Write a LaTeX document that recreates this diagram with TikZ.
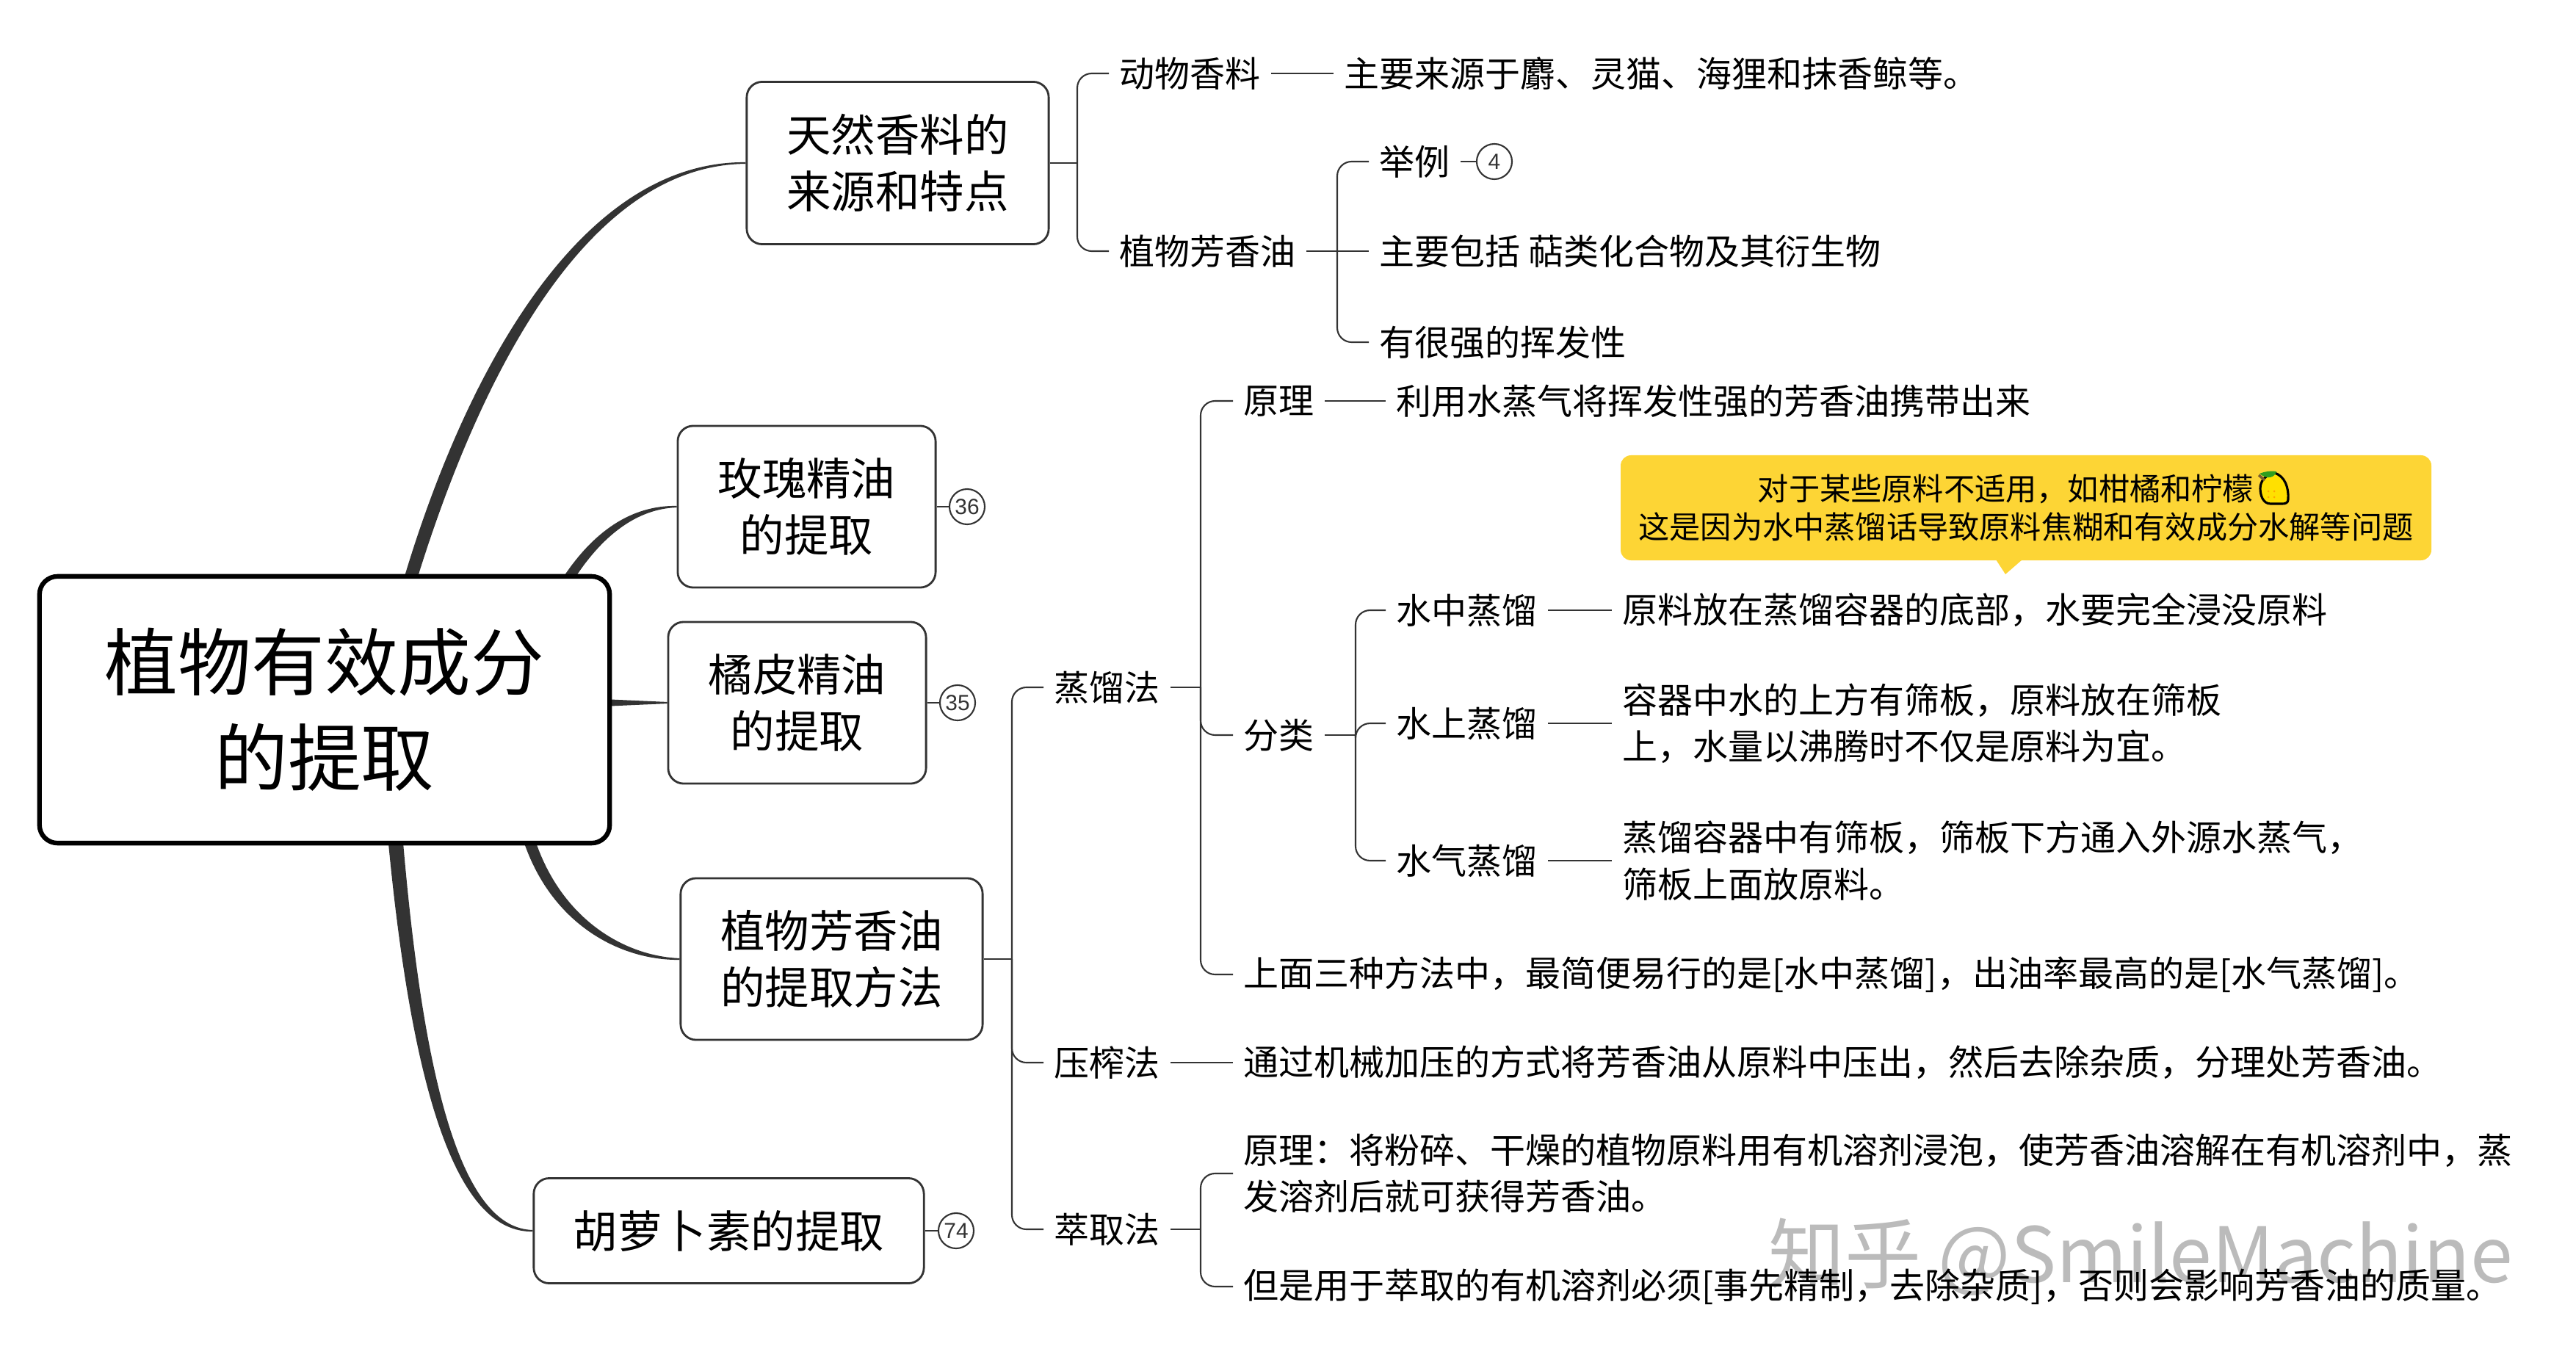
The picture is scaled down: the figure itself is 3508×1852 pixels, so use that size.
\documentclass[tikz,border=0pt]{standalone}
\usepackage{fontspec}
\setmainfont{Noto Sans CJK SC}
\newfontfamily\numfont{Liberation Sans}
\usetikzlibrary{calc}
\definecolor{linecol}{HTML}{333333}
\definecolor{notecol}{HTML}{FDD535}
\definecolor{lemoncol}{HTML}{FFE000}
\definecolor{leafcol}{HTML}{2E9E1F}
\definecolor{stemcol}{HTML}{7A5C2E}
\definecolor{markcol}{HTML}{BBBBBB}
\tikzset{
  rootbox/.style={draw=black,line width=1.8pt,rounded corners=7pt,fill=white,align=center,inner sep=0pt,font=\fontsize{28.4}{37}\selectfont},
  topicbox/.style={draw=linecol,line width=0.8pt,rounded corners=6pt,fill=white,align=center,inner sep=0pt,font=\fontsize{17.2}{22}\selectfont},
  lab/.style={anchor=west,align=left,inner xsep=0.14cm,inner ysep=0.03cm,font=\fontsize{13.65}{18}\selectfont},
  badge/.style={draw=linecol,line width=0.6pt,circle,inner sep=0pt,minimum size=0.48cm,text=linecol,font=\numfont\fontsize{8.5}{10}\selectfont},
  trunk/.style={draw=linecol,fill=linecol,line width=0.6pt},
  link/.style={draw=linecol,line width=0.8pt},
  thin link/.style={draw=linecol,line width=0.6pt},
  elbow/.style={draw=linecol,line width=0.6pt,rounded corners=5.6pt},
}

\begin{document}
\begin{tikzpicture}[x=0.01cm,y=-0.01cm]
\useasboundingbox (0,0) rectangle (3508,1852);

\node[text=markcol,font=\fontsize{29.6}{30}\selectfont,inner sep=0pt] (mark) at (2915,1712) {知乎 @SmileMachine};

\coordinate (r1) at (560,785);
\coordinate (r2) at (776,785);
\coordinate (r3) at (830,957);
\coordinate (r4) at (722,1148);
\coordinate (r5) at (539,1148);

\node[topicbox,minimum width=4.11cm,minimum height=2.21cm] (tianran) at (1222.5,222) {天然香料的\\来源和特点};
\node[topicbox,minimum width=3.51cm,minimum height=2.20cm] (meigui) at (1098.5,690) {玫瑰精油\\的提取};
\node[topicbox,minimum width=3.51cm,minimum height=2.20cm] (jupi) at (1085.5,957) {橘皮精油\\的提取};
\node[topicbox,minimum width=4.11cm,minimum height=2.20cm] (fangfa) at (1132.5,1306) {植物芳香油\\的提取方法};
\node[topicbox,minimum width=5.31cm,minimum height=1.43cm] (huluobo) at (992.5,1676) {胡萝卜素的提取};

\fill[trunk] ([xshift=-0.08cm]r1) .. controls (633,516) and (787,220) .. (tianran.west) .. controls (793,224) and (649,525) .. ([xshift=0.08cm]r1) -- cycle;
\fill[trunk] ([xshift=-0.07cm]r2) .. controls (808,727) and (858,689) .. (meigui.west) .. controls (864,692) and (818,732) .. ([xshift=0.07cm]r2) -- cycle;
\fill[trunk] ([yshift=0.035cm]r3) -- (jupi.west) -- ([yshift=-0.035cm]r3) -- cycle;
\fill[trunk] ([xshift=-0.07cm]r4) .. controls (754,1260) and (847,1307) .. (fangfa.west) .. controls (851,1303) and (766,1254) .. ([xshift=0.07cm]r4) -- cycle;
\fill[trunk] ([xshift=-0.09cm]r5) .. controls (564,1503) and (627,1678) .. (huluobo.west) .. controls (633,1674) and (578,1497) .. ([xshift=0.09cm]r5) -- cycle;

\node[rootbox,minimum width=7.76cm,minimum height=3.63cm] (root) at (442,966.5) {\raisebox{1.7pt}{植物有效成分}\\\raisebox{1.7pt}{的提取}};

\node[badge] (b36) at (1317,690) {36};
\node[badge] (b35) at (1304,957) {35};
\node[badge] (b74) at (1302,1676) {74};
\node[badge] (b4) at (2035,220) {4};
\draw[link] (meigui.east) -- (b36.west);
\draw[link] (jupi.east) -- (b35.west);
\draw[link] (huluobo.east) -- (b74.west);

\node[lab] (dongwu) at (1510,100) {动物香料};
\node[lab] (zhiwu) at (1510,342) {植物芳香油};
\node[lab] (dongwuT) at (1816,100) {主要来源于麝、灵猫、海狸和抹香鲸等。};
\node[lab] (juli) at (1864,220) {举例};
\node[lab] (baokuo) at (1864,342) {主要包括 萜类化合物及其衍生物};
\node[lab] (huifa) at (1864,466) {有很强的挥发性};

\coordinate (s1) at (1467,222);
\coordinate (s2) at (1821,342);
\draw[link] (tianran.east) -- (s1);
\foreach \k in {dongwu,zhiwu}{
  \draw[elbow] (s1) |- (\k.west);
};
\draw[thin link] (dongwu.east) -- (dongwuT.west);
\draw[thin link] (zhiwu.east) -- (baokuo.west);
\foreach \k in {juli,huifa}{
  \draw[elbow] (s2) |- (\k.west);
};
\draw[thin link] (juli.east) -- (b4.west);

\node[lab] (zhengliu) at (1421,936) {蒸馏法};
\node[lab] (yazha) at (1421,1447) {压榨法};
\node[lab] (cuiqu) at (1421,1674) {萃取法};

\coordinate (s3) at (1378,1306);
\draw[link] (fangfa.east) -- (s3);
\foreach \k in {zhengliu,yazha,cuiqu}{
  \draw[elbow] (s3) |- (\k.west);
};

\node[lab] (yuanli) at (1679,546) {原理};
\node[lab] (yuanliT) at (1887,546) {利用水蒸气将挥发性强的芳香油携带出来};
\node[lab] (fenlei) at (1679,1001) {分类};
\node[lab] (zuijian) at (1679,1327) {上面三种方法中，最简便易行的是[水中蒸馏]，出油率最高的是[水气蒸馏]。};

\coordinate (s4) at (1635,936);
\draw[thin link] (zhengliu.east) -- (s4);
\foreach \k in {yuanli,fenlei,zuijian}{
  \draw[elbow] (s4) |- (\k.west);
};
\draw[thin link] (yuanli.east) -- (yuanliT.west);

\node[lab] (shuizhong) at (1887,831) {水中蒸馏};
\node[lab] (shuishang) at (1887,985) {水上蒸馏};
\node[lab] (shuiqi) at (1887,1172) {水气蒸馏};
\node[lab] (shuizhongT) at (2195,831) {原料放在蒸馏容器的底部，水要完全浸没原料};
\node[lab] (shuishangT) at (2195,985) {容器中水的上方有筛板，原料放在筛板\\上，水量以沸腾时不仅是原料为宜。};
\node[lab] (shuiqiT) at (2195,1172) {蒸馏容器中有筛板，筛板下方通入外源水蒸气，\\筛板上面放原料。};

\coordinate (s5) at (1846,1001);
\draw[thin link] (fenlei.east) -- (s5);
\foreach \k in {shuizhong,shuishang,shuiqi}{
  \draw[elbow] (s5) |- (\k.west);
};
\foreach \k in {shuizhong,shuishang,shuiqi}{
  \draw[thin link] (\k.east) -- (\k T.west);
};

\node[lab] (yazhaT) at (1679,1447) {通过机械加压的方式将芳香油从原料中压出，然后去除杂质，分理处芳香油。};
\draw[thin link] (yazha.east) -- (yazhaT.west);

\node[lab] (cuiquA) at (1679,1598) {原理：将粉碎、干燥的植物原料用有机溶剂浸泡，使芳香油溶解在有机溶剂中，蒸\\发溶剂后就可获得芳香油。};
\node[lab] (cuiquB) at (1679,1752) {但是用于萃取的有机溶剂必须[事先精制，去除杂质]，否则会影响芳香油的质量。};

\coordinate (s6) at (1635,1674);
\draw[thin link] (cuiqu.east) -- (s6);
\foreach \k in {cuiquA,cuiquB}{
  \draw[elbow] (s6) |- (\k.west);
};

\fill[notecol,rounded corners=4pt] (2207,620) rectangle (3311,763);
\fill[notecol] (2718,762) -- (2731,782) -- (2754,762) -- cycle;
\node[font=\fontsize{12}{14.8}\selectfont,align=center,inner sep=0pt] (note) at (2759,692) {对于某些原料不适用，如柑橘和柠檬\hspace*{0.55cm}\\这是因为水中蒸馏话导致原料焦糊和有效成分水解等问题};

\filldraw[fill=lemoncol,draw=black,line width=0.9pt] (3097,644) .. controls (3112,648) and (3117,665) .. (3116,680) .. controls (3116,685) and (3112,686) .. (3108,686) -- (3092,686) .. controls (3082,686) and (3078,675) .. (3078,665) .. controls (3078,655) and (3085,647) .. (3097,644) -- cycle;
\draw[stemcol,line width=1pt] (3076,647) -- (3084,654);
\fill[leafcol] (3077,645) .. controls (3084,642) and (3092,641) .. (3100,642) .. controls (3098,650) and (3088,654) .. (3077,645) -- cycle;
\foreach \x in {3089,3097}{
  \foreach \y in {669,677}{
    \fill[orange!70!yellow] (\x,\y) circle(1.5);
  };
};
\end{tikzpicture}
\end{document}
